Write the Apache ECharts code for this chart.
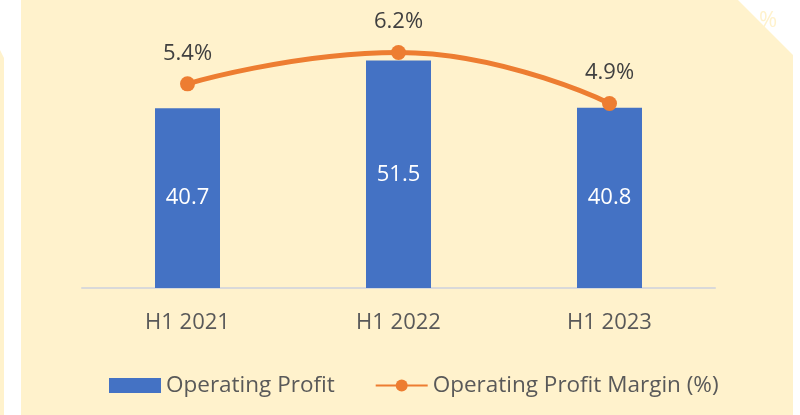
<!DOCTYPE html>
<html>
<head>
<meta charset="utf-8">
<style>
  html, body { margin: 0; padding: 0; background: #ffffff; }
  #chart { width: 800px; height: 415px; }
</style>
<script src="https://cdn.jsdelivr.net/npm/echarts@6/dist/echarts.min.js"></script>
</head>
<body>
<div id="chart"></div>
<script>
// periods and values
var periods = ['H1 2021', 'H1 2022', 'H1 2023'];
var operatingProfit = [40.7, 51.5, 40.8];
var profitMargin = [5.4, 6.2, 4.9];

var textColor = '#595959';
var fontName = '"Open Sans", "DejaVu Sans", sans-serif';

var chart = echarts.init(document.getElementById('chart'));

var option = {
    backgroundColor: '#FFF2CC',
    animation: false,
    textStyle: { fontFamily: fontName },
    grid: { left: 82, right: 85, top: 23, bottom: 127 },
    legend: {
        left: 104,
        top: 369,
        itemWidth: 52,
        itemHeight: 15,
        itemGap: 40,
        textStyle: { color: textColor, fontSize: 22.5, fontFamily: fontName },
        data: [
            { name: 'Operating Profit', icon: 'rect' },
            { name: 'Operating Profit Margin (%)' }
        ]
    },
    xAxis: {
        type: 'category',
        data: periods,
        axisTick: { show: false },
        axisLine: { lineStyle: { color: '#D9D9D9', width: 2 } },
        axisLabel: { color: textColor, fontSize: 22, margin: 24 }
    },
    yAxis: [
        { type: 'value', min: 0, max: 60, show: false, splitLine: { show: false } },
        { type: 'value', min: 0.2, max: 6.95, show: false, splitLine: { show: false } }
    ],
    series: [
        {
            name: 'Operating Profit',
            type: 'bar',
            barWidth: 65,
            itemStyle: { color: '#4472C4' },
            label: {
                show: true,
                position: 'inside',
                color: '#ffffff',
                fontSize: 22
            },
            data: operatingProfit
        },
        {
            name: 'Operating Profit Margin (%)',
            type: 'line',
            yAxisIndex: 1,
            smooth: 0.5,
            symbol: 'circle',
            symbolSize: 15,
            lineStyle: { color: '#ED7D31', width: 5 },
            itemStyle: { color: '#ED7D31' },
            label: {
                show: true,
                position: 'top',
                distance: 12,
                color: '#404040',
                fontSize: 22,
                formatter: function (p) { return p.value.toFixed(1) + '%'; }
            },
            data: profitMargin
        }
    ],
    graphic: [
        // white margins around the clipped slide
        { type: 'polygon', z: -1, silent: true,
          shape: { points: [[0, 0], [21, 0], [21, 415], [4, 415], [4, 58], [0, 50]] },
          style: { fill: '#ffffff' } },
        { type: 'polygon', z: -1, silent: true,
          shape: { points: [[738, 0], [800, 0], [800, 415], [793, 415], [793, 55]] },
          style: { fill: '#ffffff' } },
        { type: 'text', z: -1, silent: true, left: 759, top: 10,
          style: { text: '%', fill: '#FFF2CC', fontSize: 22, fontFamily: fontName } }
    ]
};

chart.setOption(option);
</script>
</body>
</html>
